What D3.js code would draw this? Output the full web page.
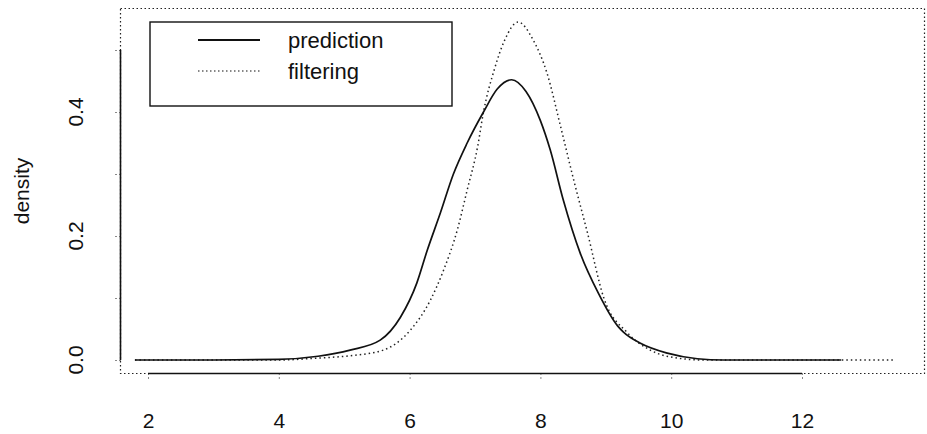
<!DOCTYPE html>
<html>
<head>
<meta charset="utf-8">
<script src="https://cdn.jsdelivr.net/npm/d3@7"></script>
<style>
  body { margin: 0; background: #fff; }
  text { font-family: "Liberation Sans", Arial, sans-serif; fill: #111; }
</style>
</head>
<body>
<svg id="chart" width="927" height="434"></svg>
<script>
// density curves
var predX = [1.8, 3.0, 4.0, 4.6, 5.09, 5.55, 5.86, 6.11, 6.27, 6.47, 6.67, 6.88, 7.13, 7.34, 7.56, 7.78, 8.0, 8.15, 8.35, 8.61, 8.89, 9.18, 9.27, 9.53, 9.94, 10.4, 10.8, 12.6];
var predY = [0, 0, 0.001, 0.006, 0.016, 0.032, 0.069, 0.124, 0.177, 0.237, 0.30, 0.35, 0.40, 0.437, 0.452, 0.433, 0.386, 0.339, 0.258, 0.172, 0.107, 0.055, 0.045, 0.027, 0.011, 0.002, 0, 0];
var filtX = [1.8, 4.0, 4.58, 5.1, 5.6, 6.01, 6.32, 6.52, 6.73, 6.88, 7.04, 7.13, 7.3, 7.45, 7.66, 7.89, 8.1, 8.31, 8.51, 8.72, 8.97, 9.33, 9.68, 10.1, 10.5, 13.4];
var filtY = [0, 0, 0.003, 0.007, 0.016, 0.048, 0.097, 0.145, 0.21, 0.274, 0.344, 0.40, 0.47, 0.515, 0.545, 0.516, 0.463, 0.376, 0.29, 0.205, 0.10, 0.044, 0.016, 0.003, 0, 0];
var xTicks = [2, 4, 6, 8, 10, 12];
var yTicks = [0, 0.1, 0.2, 0.3, 0.4, 0.5];
var yLabels = [0, 0.2, 0.4];
var seriesNames = ["prediction", "filtering"];

var svg = d3.select("#chart");
var x = d3.scaleLinear().domain([2, 12]).range([148, 802]);
var y = d3.scaleLinear().domain([0, 0.5]).range([360, 50]);

// dotted plot frame
svg.append("rect")
    .attr("x", 120.5).attr("y", 8.5).attr("width", 804).attr("height", 365)
    .attr("fill", "none").attr("stroke", "#222").attr("stroke-width", 1.2)
    .attr("stroke-dasharray", "1.5,2.5");

// x axis
var xAxis = svg.append("g").attr("transform", "translate(0,373.5)")
    .call(d3.axisBottom(x).tickValues(xTicks).tickSize(5).tickPadding(49).tickFormat(d3.format("d")));
xAxis.select(".domain").attr("d", "M" + x(2) + ",0H" + x(12)).attr("stroke", "#111").attr("stroke-width", 1.6);
xAxis.selectAll(".tick line").attr("stroke", "#111").attr("stroke-dasharray", "1,3");
xAxis.selectAll(".tick text").attr("font-size", 21).attr("fill", "#111")
    .attr("font-family", "Liberation Sans, Arial, sans-serif").attr("dy", "0");

// y axis
var yAxis = svg.append("g").attr("transform", "translate(120.5,0)")
    .call(d3.axisLeft(y).tickValues(yTicks).tickSize(5).tickFormat(""));
yAxis.select(".domain").attr("d", "M0," + y(0.5) + "V" + y(0)).attr("stroke", "#111").attr("stroke-width", 1.6);
yAxis.selectAll(".tick line").attr("stroke", "#111").attr("stroke-dasharray", "1,3");

svg.selectAll(".ylab").data(yLabels).enter().append("text")
    .attr("class", "ylab")
    .attr("transform", function(d) { return "translate(83," + y(d) + ") rotate(-90)"; })
    .attr("text-anchor", "middle").attr("font-size", 21)
    .text(d3.format(".1f"));

svg.append("text")
    .attr("transform", "translate(29,191) rotate(-90)")
    .attr("text-anchor", "middle").attr("font-size", 21)
    .text("density");

// curves
var line = d3.line()
    .x(function(d) { return x(d[0]); })
    .y(function(d) { return y(d[1]); })
    .curve(d3.curveMonotoneX);

var filtData = d3.zip(filtX, filtY);
var predData = d3.zip(predX, predY);

svg.append("path").datum(filtData)
    .attr("d", line).attr("fill", "none")
    .attr("stroke", "#222").attr("stroke-width", 1.5).attr("stroke-dasharray", "1.5,3");

svg.append("path").datum(predData)
    .attr("d", line).attr("fill", "none")
    .attr("stroke", "#111").attr("stroke-width", 1.7);

// legend
var legend = svg.append("g");
legend.append("rect")
    .attr("x", 150).attr("y", 22).attr("width", 302).attr("height", 84)
    .attr("fill", "#fff").attr("stroke", "#111").attr("stroke-width", 1.4);

var legendY = [40, 71];
seriesNames.forEach(function(name, i) {
    var ln = legend.append("line")
        .attr("x1", 198).attr("x2", 260).attr("y1", legendY[i]).attr("y2", legendY[i])
        .attr("stroke", "#111");
    if (i == 1) {
        ln.attr("stroke-width", 1.2).attr("stroke-dasharray", "1.5,2.5");
    } else {
        ln.attr("stroke-width", 1.8);
    }
    legend.append("text")
        .attr("x", 288).attr("y", legendY[i] + 8)
        .attr("font-size", 22)
        .text(name);
});
</script>
</body>
</html>
